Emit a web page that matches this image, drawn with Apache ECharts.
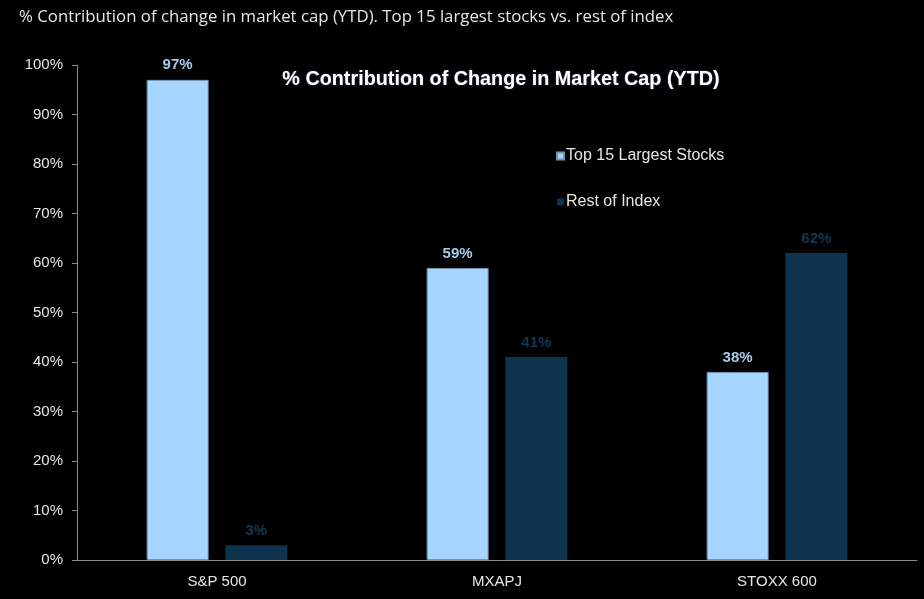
<!DOCTYPE html>
<html>
<head>
<meta charset="utf-8">
<script src="https://cdn.jsdelivr.net/npm/echarts@6/dist/echarts.min.js"></script>
<style>
html, body { margin: 0; padding: 0; background: #000; }
#main { width: 924px; height: 599px; }
</style>
</head>
<body>
<div id="main"></div>
<script>
// 数据
var categories = ['S&P 500', 'MXAPJ', 'STOXX 600'];
var top15 = [97, 59, 38];
var restOfIndex = [3, 41, 62];
var yTicks = [0, 10, 20, 30, 40, 50, 60, 70, 80, 90, 100];

var chart = echarts.init(document.getElementById('main'));

var labelStyle = function(color){
	return {
		show : true,
		position : 'top',
		distance : 7,
		formatter : '{c}%',
		color : color,
		fontFamily : 'Liberation Sans, Arial',
		fontSize : 15,
		fontWeight : 'bold'
	};
};

var option = {
	backgroundColor : '#000',
	animation : false,
	title : [
		{
			text : '% Contribution of change in market cap (YTD). Top 15 largest stocks vs. rest of index',
			left : 14,
			top : 4,
			textStyle : {
				color : '#e6e6e6',
				fontFamily : 'Open Sans',
				fontSize : 16.8,
				fontWeight : 'normal'
			}
		},
		{
			text : '% Contribution of Change in Market Cap (YTD)',
			left : 496,
			textAlign : 'center',
			top : 65,
			textStyle : {
				color : '#ffffff',
				fontFamily : 'Liberation Sans, Arial',
				fontSize : 19.8,
				fontWeight : 'bold',
				textShadowColor : 'rgba(120,140,200,0.6)',
				textShadowBlur : 2
			}
		}
	],
	legend : {
		orient : 'vertical',
		left : 551,
		top : 143,
		itemWidth : 7,
		itemHeight : 7,
		itemGap : 30,
		icon : 'rect',
		textStyle : {
			color : '#e6e6e6',
			fontFamily : 'Liberation Sans, Arial',
			fontSize : 16,
			padding : [0, 0, 0, -3]
		},
		data : ['Top 15 Largest Stocks', 'Rest of Index']
	},
	grid : {
		left : 77,
		right : 7,
		top : 65,
		bottom : 39,
		containLabel : false
	},
	xAxis : {
		type : 'category',
		data : categories,
		axisLine : { lineStyle : { color : '#8a8a8a', width : 1 } },
		axisTick : { show : false },
		axisLabel : {
			color : '#e6e6e6',
			fontFamily : 'Liberation Sans, Arial',
			fontSize : 15,
			margin : 14
		}
	},
	yAxis : {
		type : 'value',
		min : yTicks[0],
		max : yTicks[yTicks.length - 1],
		interval : 10,
		axisLine : { show : true, lineStyle : { color : '#8a8a8a', width : 1 } },
		axisTick : { show : true, length : 5, inside : false, lineStyle : { color : '#8a8a8a' } },
		splitLine : { show : false },
		axisLabel : {
			color : '#e6e6e6',
			fontFamily : 'Liberation Sans, Arial',
			fontSize : 15,
			margin : 14,
			formatter : '{value}%'
		}
	},
	series : [
		{
			name : 'Top 15 Largest Stocks',
			type : 'bar',
			data : top15,
			barWidth : 62,
			barGap : '27%',
			itemStyle : { color : '#a6d6fd', borderColor : '#6f93b3', borderWidth : 1 },
			label : labelStyle('#a3cbea')
		},
		{
			name : 'Rest of Index',
			type : 'bar',
			data : restOfIndex,
			barWidth : 62,
			itemStyle : { color : '#0e334f' },
			label : labelStyle('#133856')
		}
	]
};

chart.setOption(option);
</script>
</body>
</html>
